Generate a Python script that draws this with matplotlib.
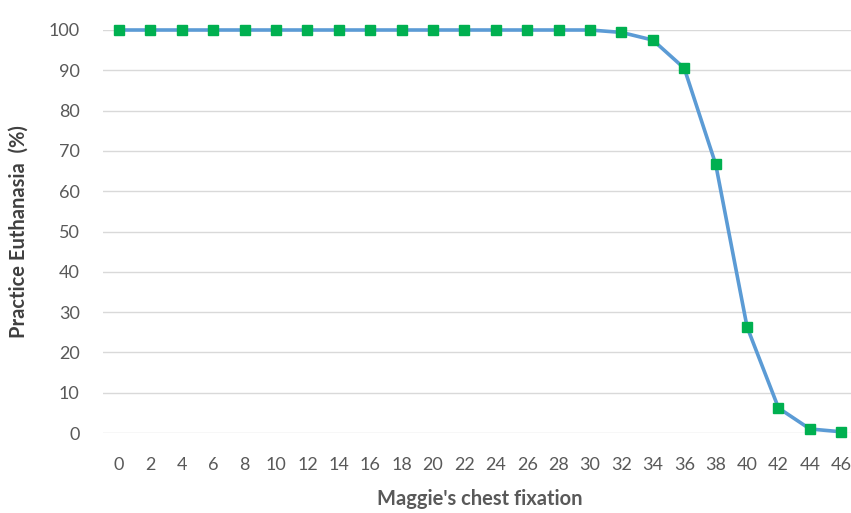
import matplotlib
matplotlib.use("Agg")
import matplotlib.pyplot as plt

plt.rcParams['font.family'] = ['Lato', 'DejaVu Sans']

fixation = [0, 2, 4, 6, 8, 10, 12, 14, 16, 18, 20, 22, 24, 26, 28, 30,
            32, 34, 36, 38, 40, 42, 44, 46]
euthanasia = [100, 100, 100, 100, 100, 100, 100, 100, 100, 100, 100, 100,
              100, 100, 100, 100, 99.4, 97.5, 90.5, 66.7, 26.3, 6.2, 1.0, 0.3]
y_ticks = [0, 10, 20, 30, 40, 50, 60, 70, 80, 90, 100]

W, H = 851, 513
fig = plt.figure(figsize=(W / 100, H / 100), dpi=100)
left, right, top, bottom = 103.3, 857.0, 30.0, 433.0
ax = fig.add_axes([left / W, 1 - bottom / H, (right - left) / W, (bottom - top) / H])

ax.plot(fixation, euthanasia, color='#5B9BD5', lw=2.6, marker='s',
        markersize=7.5, markerfacecolor='#00B050', markeredgecolor='#00B050',
        clip_on=False, zorder=3, solid_capstyle='round')

ax.set_xlim(-1, 47)
ax.set_ylim(0, 100)
ax.set_yticks(y_ticks)
ax.set_xticks(fixation)
ax.set_xticklabels([str(v) for v in fixation])

ax.grid(axis='y', color='#D9D9D9', lw=1.0)
ax.set_axisbelow(True)
for s in ax.spines.values():
    s.set_visible(False)
ax.tick_params(axis='both', length=0, labelsize=13, labelcolor='#595959')
ax.tick_params(axis='y', pad=17)
ax.tick_params(axis='x', pad=17)

ax.set_xlabel("Maggie's chest fixation", fontsize=14.5, fontweight='bold',
              color='#595959')
ax.xaxis.set_label_coords(0.5, -(489 - bottom) / (bottom - top))
ax.set_ylabel("Practice Euthanasia  (%)", fontsize=14.5, fontweight='bold',
              color='#404040')
ax.yaxis.set_label_coords(-(left - 29) / (right - left), 0.5)

fig.savefig("out.png", dpi=100, facecolor='white')
